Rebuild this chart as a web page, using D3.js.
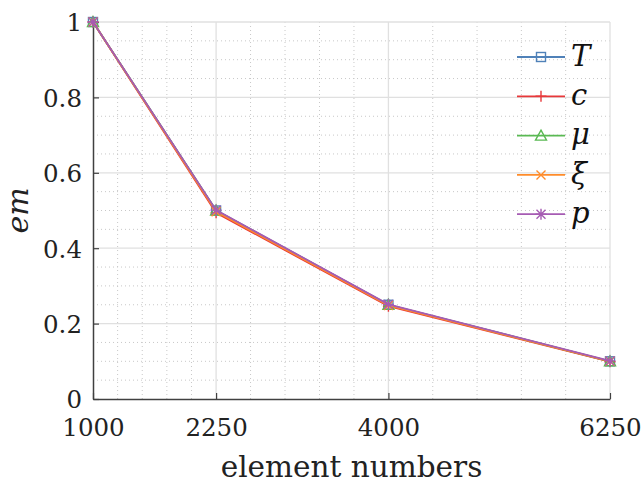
<!DOCTYPE html>
<html><head><meta charset="utf-8">
<script src="https://cdn.jsdelivr.net/npm/d3@7"></script>
<style>body{margin:0;background:#fff}svg{display:block}</style>
</head><body>
<script>
const elements = [1000, 2250, 4000, 6250];
const seriesNames = ["T", "c", "\u03bc", "\u03be", "p"];
const valuesT  = [1, 0.500, 0.250, 0.100];
const valuesC  = [1, 0.494, 0.246, 0.099];
const valuesMu = [1, 0.500, 0.250, 0.100];
const valuesXi = [1, 0.497, 0.248, 0.100];
const valuesP  = [1, 0.501, 0.251, 0.101];
const xTicks = [1000, 2250, 4000, 6250];
const xMinorTicks = [1250, 1500, 1750, 2000, 2600, 2950, 3300, 3650, 4450, 4900, 5350, 5800];
const yTicks = [0, 0.2, 0.4, 0.6, 0.8, 1];
const yTickLabels = ["0", "0.2", "0.4", "0.6", "0.8", "1"];
const yMinorTicks = [0.05,0.1,0.15,0.25,0.3,0.35,0.45,0.5,0.55,0.65,0.7,0.75,0.85,0.9,0.95];

const colors = ["#4f81b8", "#e8383a", "#5ab953", "#ff8c2a", "#a65bb3"];
const markers = ["square", "plus", "triangle", "cross", "asterisk"];
const allValues = [valuesT, valuesC, valuesMu, valuesXi, valuesP];

const W = 644, H = 487;
const m = {left: 93, right: 34, top: 22, bottom: 88};
const svg = d3.select("body").append("svg").attr("width", W).attr("height", H);
const x = d3.scaleLinear().domain([1000, 6250]).range([m.left, W - m.right]);
const y = d3.scaleLinear().domain([0, 1]).range([H - m.bottom, m.top]);
const font = "'DejaVu Serif', serif";

const g = svg.append("g");
// minor grid
g.selectAll(".mx").data(xMinorTicks).join("line")
  .attr("x1", d => x(d)).attr("x2", d => x(d)).attr("y1", y(0)).attr("y2", y(1))
  .attr("stroke", "#c8c8c8").attr("stroke-width", 1).attr("stroke-dasharray", "1,3");
g.selectAll(".my").data(yMinorTicks).join("line")
  .attr("y1", d => y(d)).attr("y2", d => y(d)).attr("x1", x(1000)).attr("x2", x(6250))
  .attr("stroke", "#c8c8c8").attr("stroke-width", 1).attr("stroke-dasharray", "1,3");
// major grid
g.selectAll(".gx").data(xTicks.slice(1)).join("line")
  .attr("x1", d => x(d)).attr("x2", d => x(d)).attr("y1", y(0)).attr("y2", y(1))
  .attr("stroke", "#e0e0e0").attr("stroke-width", 1.3);
g.selectAll(".gy").data(yTicks.slice(1)).join("line")
  .attr("y1", d => y(d)).attr("y2", d => y(d)).attr("x1", x(1000)).attr("x2", x(6250))
  .attr("stroke", "#e0e0e0").attr("stroke-width", 1.3);

// axes
const xAxis = d3.axisBottom(x).tickValues(xTicks).tickSizeInner(-6).tickSizeOuter(0).tickPadding(37).tickFormat(d3.format("d"));
const yAxis = d3.axisLeft(y).tickValues(yTicks).tickSizeInner(-6).tickSizeOuter(0).tickPadding(11).tickFormat((d,i) => yTickLabels[i]);
const gx = svg.append("g").attr("transform", `translate(0,${y(0)})`).call(xAxis);
const gy = svg.append("g").attr("transform", `translate(${x(1000)},0)`).call(yAxis);
[gx, gy].forEach(a => {
  a.select(".domain").attr("stroke", "#404040").attr("stroke-width", 1.5);
  a.selectAll(".tick line").attr("stroke", "#404040").attr("stroke-width", 1.2);
  a.selectAll(".tick text").attr("font-family", font).attr("font-size", 24.5).attr("fill", "#222");
});
gx.selectAll(".tick text").attr("dy", "0");
gy.selectAll(".tick text").attr("dy", "0.36em");

// axis labels
svg.append("text").attr("x", (x(1000) + x(6250)) / 2).attr("y", 477)
  .attr("text-anchor", "middle").attr("font-family", font).attr("font-size", 29.5).attr("fill", "#222")
  .text("element numbers");
svg.append("text").attr("transform", `translate(28,${(y(0)+y(1))/2}) rotate(-90)`)
  .attr("text-anchor", "middle").attr("font-family", font).attr("font-style", "italic")
  .attr("font-size", 30).attr("fill", "#222").text("em");

function drawMarker(sel, type, color, cx, cy) {
  const s = 4.5;
  const gg = sel.append("g").attr("transform", `translate(${cx},${cy})`)
    .attr("fill", "none").attr("stroke", color).attr("stroke-width", 1.4);
  if (type === "square") gg.append("rect").attr("x", -s).attr("y", -s).attr("width", 2*s).attr("height", 2*s);
  else if (type === "plus") gg.append("path").attr("d", `M${-s-1},0H${s+1}M0,${-s-1}V${s+1}`);
  else if (type === "triangle") gg.append("path").attr("d", `M0,${-s-1}L${s+1},${s}L${-s-1},${s}Z`);
  else if (type === "cross") gg.append("path").attr("d", `M${-s},${-s}L${s},${s}M${-s},${s}L${s},${-s}`);
  else if (type === "asterisk") gg.append("path").attr("d", `M${-s-1},0H${s+1}M0,${-s-1}V${s+1}M${-s},${-s}L${s},${s}M${-s},${s}L${s},${-s}`);
}

// series
const line = d3.line().x((d, i) => x(elements[i])).y(d => y(d));
allValues.forEach((vals, k) => {
  svg.append("path").datum(vals).attr("d", line).attr("fill", "none")
    .attr("stroke", colors[k]).attr("stroke-width", 1.8);
  vals.forEach((v, i) => drawMarker(svg, markers[k], colors[k], x(elements[i]), y(v)));
});

// legend
const lg = svg.append("g");
seriesNames.forEach((name, k) => {
  const ly = 57 + k * 39.3;
  lg.append("line").attr("x1", 517).attr("x2", 565).attr("y1", ly).attr("y2", ly)
    .attr("stroke", colors[k]).attr("stroke-width", 1.8);
  drawMarker(lg, markers[k], colors[k], 541, ly);
  lg.append("text").attr("x", 571).attr("y", ly).attr("dy", "0.3em")
    .attr("font-family", font).attr("font-style", "italic").attr("font-size", 29).attr("fill", "#111")
    .text(name);
});
</script>
</body></html>
